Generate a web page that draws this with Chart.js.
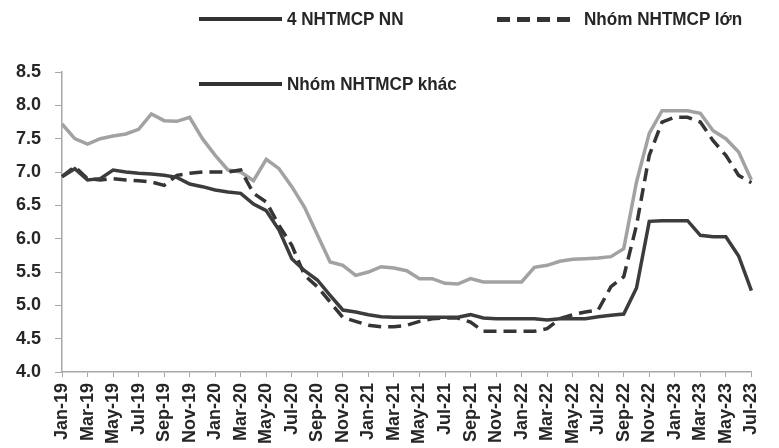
<!DOCTYPE html>
<html lang="vi">
<head>
  <meta charset="UTF-8">
  <title>Lãi suất theo nhóm NHTM</title>
  <script src="https://cdn.jsdelivr.net/npm/chart.js"></script>
  <style>
    body {
      margin: 0;
      background: #fff;
    }

    .wrap {
      position: relative;
      width: 779px;
      height: 448px;
    }

    canvas {
      position: absolute;
      left: 0;
      top: 0;
    }

    .lg-line {
      position: absolute;
      height: 4px;
      background: #333;
    }

    .lg-dash {
      position: absolute;
      height: 5px;
      background: repeating-linear-gradient(90deg, #333 0 13px, transparent 13px 20px);
    }

    .lg-text {
      position: absolute;
      font: bold 19px 'Liberation Sans', Arial, sans-serif;
      color: #262626;
      line-height: 1;
      white-space: nowrap;
      transform: scaleX(0.9);
      transform-origin: left center;
    }
  </style>
</head>
<body>
  <div class="wrap">
    <canvas id="chart" width="779" height="448"></canvas>

    <div class="lg-line" style="left:199px; top:17px; width:83px;"></div>
    <div class="lg-text" style="left:287px; top:9px;">4 NHTMCP NN</div>

    <div class="lg-dash" style="left:497px; top:17px; width:78px;"></div>
    <div class="lg-text" style="left:584px; top:9px;">Nhóm NHTMCP lớn</div>

    <div class="lg-line" style="left:199px; top:82px; width:83px;"></div>
    <div class="lg-text" style="left:287px; top:74px;">Nhóm NHTMCP khác</div>
  </div>

  <script>
    const monthNames = ["Jan", "Feb", "Mar", "Apr", "May", "Jun", "Jul", "Aug", "Sep", "Oct", "Nov", "Dec"];
    const years = ["19", "20", "21", "22", "23"];
    const lastMonth = 7; // Jul-23

    const labels = [];
    years.forEach((y, yi) => {
      const n = yi === years.length - 1 ? lastMonth : 12;
      for (let m = 0; m < n; m++) labels.push(monthNames[m] + "-" + y);
    });

    // 4 NHTMCP NN
    const nhtmNN = [
      6.93, 7.05, 6.88, 6.9, 7.03, 7.0, 6.98, 6.97, 6.95, 6.92, 6.82, 6.78,
      6.73, 6.7, 6.68, 6.52, 6.42, 6.13, 5.7, 5.52, 5.38, 5.15, 4.93, 4.9,
      4.86, 4.83, 4.82, 4.82, 4.82, 4.82, 4.82, 4.82, 4.86, 4.81, 4.8, 4.8,
      4.8, 4.8, 4.78, 4.8, 4.8, 4.8, 4.83, 4.85, 4.87, 5.26, 6.26, 6.27,
      6.27, 6.27, 6.05, 6.03, 6.03, 5.74, 5.22
    ];

    // Nhóm NHTMCP lớn
    const nhomLon = [
      6.93, 7.08, 6.9, 6.88, 6.9, 6.88, 6.87, 6.85, 6.8, 6.95, 6.98, 7.0,
      7.0, 7.0, 7.03, 6.68, 6.55, 6.2, 5.9, 5.45, 5.28, 5.05, 4.82, 4.76,
      4.7, 4.68, 4.68, 4.7, 4.76, 4.8, 4.81, 4.81, 4.75, 4.61, 4.61, 4.61,
      4.61, 4.61, 4.65, 4.8, 4.86, 4.9, 4.93, 5.28, 5.43, 6.2, 7.25, 7.75,
      7.82, 7.82, 7.75, 7.47, 7.25, 6.95, 6.84
    ];

    // Nhóm NHTMCP khác
    const nhomKhac = [
      7.72, 7.5, 7.42, 7.5, 7.54, 7.57, 7.64, 7.87, 7.77, 7.76, 7.82, 7.5,
      7.25, 7.03, 7.0, 6.87, 7.19, 7.05, 6.78, 6.47, 6.06, 5.65, 5.6, 5.45,
      5.5, 5.58, 5.56, 5.52, 5.4, 5.4, 5.33, 5.32, 5.4, 5.35, 5.35, 5.35,
      5.35, 5.57, 5.6, 5.66, 5.69, 5.7, 5.71, 5.73, 5.85, 6.85, 7.58, 7.92,
      7.92, 7.92, 7.88, 7.62, 7.5, 7.3, 6.88
    ];

    const yMin = 4.0;
    const yMax = 8.5;
    const yStep = 0.5;

    const tickFont = { family: "'Liberation Sans', Arial, sans-serif", size: 18, weight: "bold" };
    const axisColor = "#a8a8a8";

    const ctx = document.getElementById("chart").getContext("2d");

    new Chart(ctx, {
      type: "line",
      data: {
        labels: labels,
        datasets: [
          {
            label: "4 NHTMCP NN",
            data: nhtmNN,
            borderColor: "#3c3c3c",
            borderWidth: 3.5,
          },
          {
            label: "Nhóm NHTMCP lớn",
            data: nhomLon,
            borderColor: "#353535",
            borderWidth: 3.5,
            borderDash: [13, 7],
          },
          {
            label: "Nhóm NHTMCP khác",
            data: nhomKhac,
            borderColor: "#a2a2a2",
            borderWidth: 3.5,
          },
        ],
      },
      options: {
        responsive: false,
        animation: false,
        elements: {
          point: { radius: 0 },
          line: { tension: 0, fill: false },
        },
        layout: {
          padding: { top: 72, right: 9, left: 0, bottom: 0 },
        },
        plugins: {
          legend: { display: false },
          tooltip: { enabled: false },
        },
        scales: {
          x: {
            offset: false,
            border: { color: axisColor, width: 1.5 },
            grid: {
              drawOnChartArea: false,
              drawTicks: true,
              tickLength: 5,
              tickColor: (c) => (c.index % 2 === 0 ? axisColor : "transparent"),
            },
            ticks: {
              autoSkip: false,
              maxRotation: 90,
              minRotation: 90,
              padding: 6,
              color: "#262626",
              font: tickFont,
              callback: (v, i) => (i % 2 === 0 ? labels[i] : ""),
            },
            afterFit: (s) => { s.height = 76; },
          },
          y: {
            min: yMin,
            max: yMax,
            border: { color: axisColor, width: 1.5 },
            grid: {
              drawOnChartArea: false,
              drawTicks: true,
              tickLength: 7,
              tickColor: axisColor,
            },
            ticks: {
              stepSize: yStep,
              padding: 14,
              color: "#262626",
              font: tickFont,
              callback: (v) => v.toFixed(1),
            },
            afterFit: (s) => { s.width = 62; },
          },
        },
      },
    });
  </script>
</body>
</html>
